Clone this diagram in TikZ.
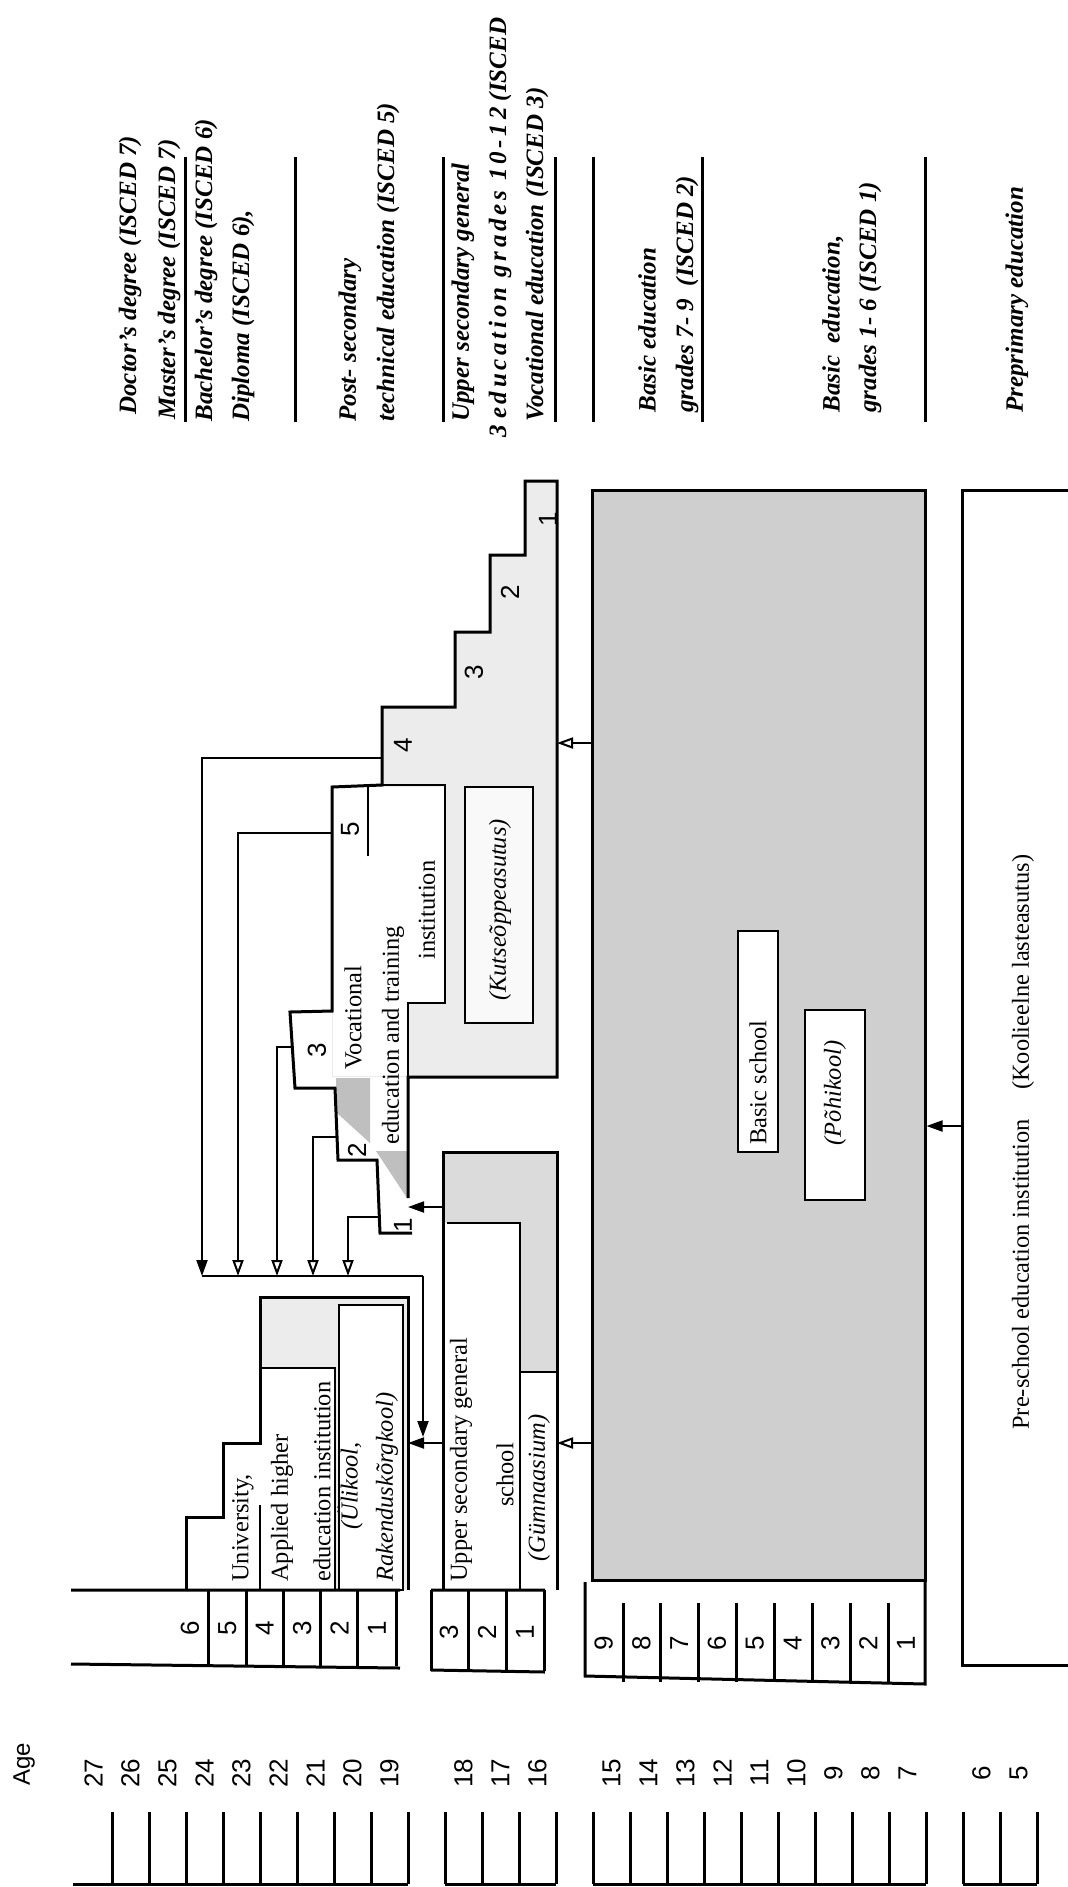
\documentclass[tikz,border=0pt]{standalone}
\usepackage{fontspec}
\setmainfont{Liberation Serif}
\setsansfont{Liberation Sans}
\newfontfamily\spacedserif[LetterSpace=15]{Liberation Serif}
\usetikzlibrary{arrows.meta}

\begin{document}
\begin{tikzpicture}[
    x=0.5pt, y=-0.5pt,
    outline/.style={line width=1.5pt, line join=miter},
    thinline/.style={line width=0.7pt},
    isbar/.style={line width=1.5pt},
    vtext/.style={rotate=90, inner sep=0pt, font=\fontsize{12.2}{14}\selectfont},
    isced/.style={vtext, anchor=west, font=\fontsize{12.5}{14}\selectfont\bfseries\itshape},
    boxtext/.style={vtext, anchor=west},
    localname/.style={vtext, font=\fontsize{12.2}{14}\selectfont\itshape},
    digit/.style={vtext, font=\sffamily\fontsize{13}{14}\selectfont},
    fillarr/.style={-{Triangle[length=8pt, width=5.5pt]}, line width=1pt},
    openarr/.style={-{Triangle[open, length=8pt, width=5.5pt]}, line width=1pt},
    conn/.style={line width=1pt},
    mottle/.style={fill=gray!38},
    lightmottle/.style={fill=gray!15}
  ]
  \useasboundingbox (0,0) rectangle (1068,1887);

  % ISCED levels along the top
  \foreach \xb in {185,295,443,555,593,702,925}
    \draw[isbar] (\xb,157) -- (\xb,422);
  \node[isced] (lvlDoc) at (130,415) {Doctor's degree (ISCED 7)};
  \node[isced] (lvlMas) at (169,420) {Master's degree (ISCED 7)};
  \node[isced] (lvlBac) at (206,422) {Bachelor's degree (ISCED 6)};
  \node[isced] (lvlDip) at (243,422) {Diploma (ISCED 6),};
  \node[isced] (lvlPsA) at (350,422) {Post- secondary};
  \node[isced] (lvlPsB) at (388,422) {technical education (ISCED 5)};
  \node[isced] (lvlUsA) at (463,422) {Upper secondary general};
  \node[isced] (lvlUsB) at (500,438) {3 {\spacedserif\bfseries\itshape education grades 10-12} (ISCED};
  \node[isced] (lvlVoc) at (537,422) {Vocational education (ISCED 3)};
  \node[isced] (lvlBeA) at (647,413) {Basic education};
  \node[isced] (lvlBeB) at (687,413) {grades 7- 9\ \ (ISCED 2)};
  \node[isced] (lvlBpA) at (833,413) {Basic\ \ education,};
  \node[isced] (lvlBpB) at (870,413) {grades 1- 6 (ISCED 1)};
  \node[isced] (lvlPre) at (1017,413) {Preprimary education};

  % pre-school and basic school
  \node[draw, outline, minimum width=64pt, minimum height=587.5pt, inner sep=0pt] (preschool) at (1026,1077.5) {};
  \node[boxtext] (pslabel) at (1023,1430) {Pre-school education institution\hspace{1.2em}(Koolieelne lasteasutus)};
  \node[draw, outline, mottle, minimum width=166.5pt, minimum height=545pt, inner sep=0pt] (basic) at (758.5,1035) {};
  \draw[thinline, fill=white] (738,931) rectangle (778,1152);
  \node[boxtext] (bslabel) at (758,1145) {Basic school};
  \draw[thinline, fill=white] (805,1010) rectangle (865,1200);
  \node[localname] (pohikool) at (835,1093) {(Põhikool)};

  % vocational institution
  \fill[lightmottle] (557,481) -- (525,481) -- (525,555) -- (490,555) -- (490,632) -- (455,632)
    -- (455,707) -- (382,707) -- (382,785) -- (332,787) -- (332,1077) -- (557,1077) -- cycle;
  \fill[white] (333,787) rectangle (444,1002);
  \fill[white] (333,1002) rectangle (407,1076);
  \fill[gray!50] (336,1078) -- (370,1078) -- (370,1143) -- (337,1113) -- cycle;
  \fill[gray!50] (376,1151) -- (407,1151) -- (407,1198) -- cycle;
  \draw[thinline, fill=gray!5] (465,787) rectangle (533,1023);
  \node[localname] (kutse) at (500,910) {(Kutseõppeasutus)};
  \draw[outline] (408,1198) -- (408,1077) -- (557,1077) -- (557,481) -- (525,481) -- (525,555)
    -- (490,555) -- (490,632) -- (455,632) -- (455,707) -- (382,707) -- (382,785) -- (332,787)
    -- (332,1011) -- (290,1012) -- (295,1088) -- (335,1088) -- (338,1160) -- (377,1160)
    -- (380,1233) -- (412,1233);
  \draw[thinline] (368,856) -- (368,787);
  \draw[line width=1pt] (370,785) -- (445,785) -- (445,1003) -- (408,1003) -- (408,1077);
  \node[boxtext] (vocA) at (353,1070) {Vocational};
  \node[boxtext] (vocB) at (393,1145) {education and training};
  \node[boxtext] (vocC) at (427,960) {institution};
  \foreach \xc/\yc/\yr in {548/519/1, 510/592/2, 474/672/3, 403/745/4, 350/829/5,
                           317/1050/3, 357/1150/2, 403/1225/1}
    \node[digit] at (\xc,\yc) {\yr};

  % upper secondary general school
  \fill[gray!28] (443,1152) rectangle (557,1223);
  \fill[gray!28] (520,1223) rectangle (557,1372);
  \draw[thinline] (447,1223) -- (520,1223) -- (520,1590);
  \draw[thinline] (520,1372) -- (557,1372);
  \draw[outline] (443,1590) -- (443,1152) -- (557,1152) -- (557,1590);
  \node[boxtext] (gymA) at (461,1582) {Upper secondary general};
  \node[vtext] (gymB) at (505,1475) {school};
  \node[localname] (gymC) at (539,1488) {(Gümnaasium)};

  % university
  \fill[gray!15] (408,1590) -- (408,1297) -- (260,1297) -- (260,1368) -- (335,1368) -- (335,1590) -- cycle;
  \draw[thinline] (260,1368) -- (335,1368) -- (335,1590);
  \draw[thinline] (260,1505) -- (260,1590);
  \draw[thinline, fill=white] (339,1305) rectangle (403,1590);
  \draw[outline] (408,1590) -- (408,1297) -- (260,1297) -- (260,1443) -- (223,1443)
    -- (223,1517) -- (186,1517) -- (186,1590);
  \node[boxtext] (uniA) at (243,1582) {University,};
  \node[boxtext] (uniB) at (282,1582) {Applied higher};
  \node[boxtext] (uniC) at (322,1582) {education institution};
  \node[localname] (uniD) at (350,1486) {(Ülikool,};
  \node[boxtext, font=\fontsize{12.2}{14}\selectfont\itshape] (uniE) at (387,1582) {Rakenduskõrgkool)};

  % grade rows
  \draw[outline] (71,1590) -- (400,1590) (71,1664) -- (400,1668);
  \foreach \xg in {208,246,283,320,357,396}
    \draw[outline] (\xg,1590) -- (\xg,1666);
  \foreach \yr in {1,...,6}
    \node[digit] at ({377-37.4*(\yr-1)},1628) {\yr};
  \draw[outline] (431,1590) -- (545,1590) (431,1670) -- (545,1672);
  \foreach \xg in {431,468,506,544}
    \draw[outline] (\xg,1590) -- (\xg,1671);
  \foreach \yr in {1,2,3}
    \node[digit] at ({525-38*(\yr-1)},1632) {\yr};
  \draw[outline] (585,1582) -- (585,1676) -- (925,1684) -- (925,1580);
  \foreach \xg in {623,660,698,736,774,812,850,888}
    \draw[outline] (\xg,1603) -- (\xg,1682);
  \foreach \yr in {1,...,9}
    \node[digit] at ({906-37.8*(\yr-1)},1643) {\yr};

  % connectors
  \coordinate (psOut) at (962,1126);
  \coordinate (vocIn) at (557,743);
  \coordinate (gymIn) at (557,1443);
  \coordinate (gymOut) at (443,1443);
  \coordinate (uniIn) at (408,1443);
  \coordinate (gymOutB) at (443,1207);
  \coordinate (pvocIn) at (408,1207);
  \draw[fillarr] (psOut) -- (basic.east |- psOut);
  \draw[openarr] (basic.west |- vocIn) -- (vocIn);
  \draw[openarr] (basic.west |- gymIn) -- (gymIn);
  \draw[fillarr] (gymOut) -- (uniIn);
  \draw[fillarr] (gymOutB) -- (pvocIn);

  % collecting line towards the university
  \coordinate (voc4out) at (382,758);
  \coordinate (voc5out) at (332,833);
  \coordinate (pv3out) at (292,1047);
  \coordinate (pv2out) at (336,1137);
  \coordinate (pv1out) at (379,1217);
  \coordinate (busA) at (202,1276);
  \coordinate (busB) at (238,1276);
  \coordinate (busC) at (277,1276);
  \coordinate (busD) at (313,1276);
  \coordinate (busE) at (348,1276);
  \coordinate (busR) at (423,1276);
  \coordinate (busEnd) at (423,1437);
  \draw[conn] (busA) -- (busR);
  \draw[fillarr] (voc4out) -| (busA);
  \draw[openarr] (voc5out) -| (busB);
  \draw[openarr] (pv3out) -| (busC);
  \draw[openarr] (pv2out) -| (busD);
  \draw[openarr] (pv1out) -| (busE);
  \draw[fillarr] (busR) -- (busEnd);

  % age scale along the bottom
  \node[vtext, font=\sffamily\fontsize{12}{14}\selectfont] (agelabel) at (24,1764) {Age};
  \foreach \age in {19,...,27}
    \node[digit] at ({93.5+37*(27-\age)},1773) {\age};
  \foreach \age in {16,17,18}
    \node[digit] at ({93.5+37*(28-\age)},1773) {\age};
  \foreach \age in {7,...,15}
    \node[digit] at ({93.5+37*(29-\age)},1773) {\age};
  \foreach \age in {5,6}
    \node[digit] at ({93.5+37*(30-\age)},1773) {\age};
  \foreach \k in {1,...,26}
    \draw[outline] ({75+37*\k},1812) -- ({75+37*\k},1884);
  \draw[outline] (73,1884) -- (408,1884) (445,1884) -- (556,1884)
    (593,1884) -- (926,1884) (963,1884) -- (1037,1884);
\end{tikzpicture}
\end{document}
